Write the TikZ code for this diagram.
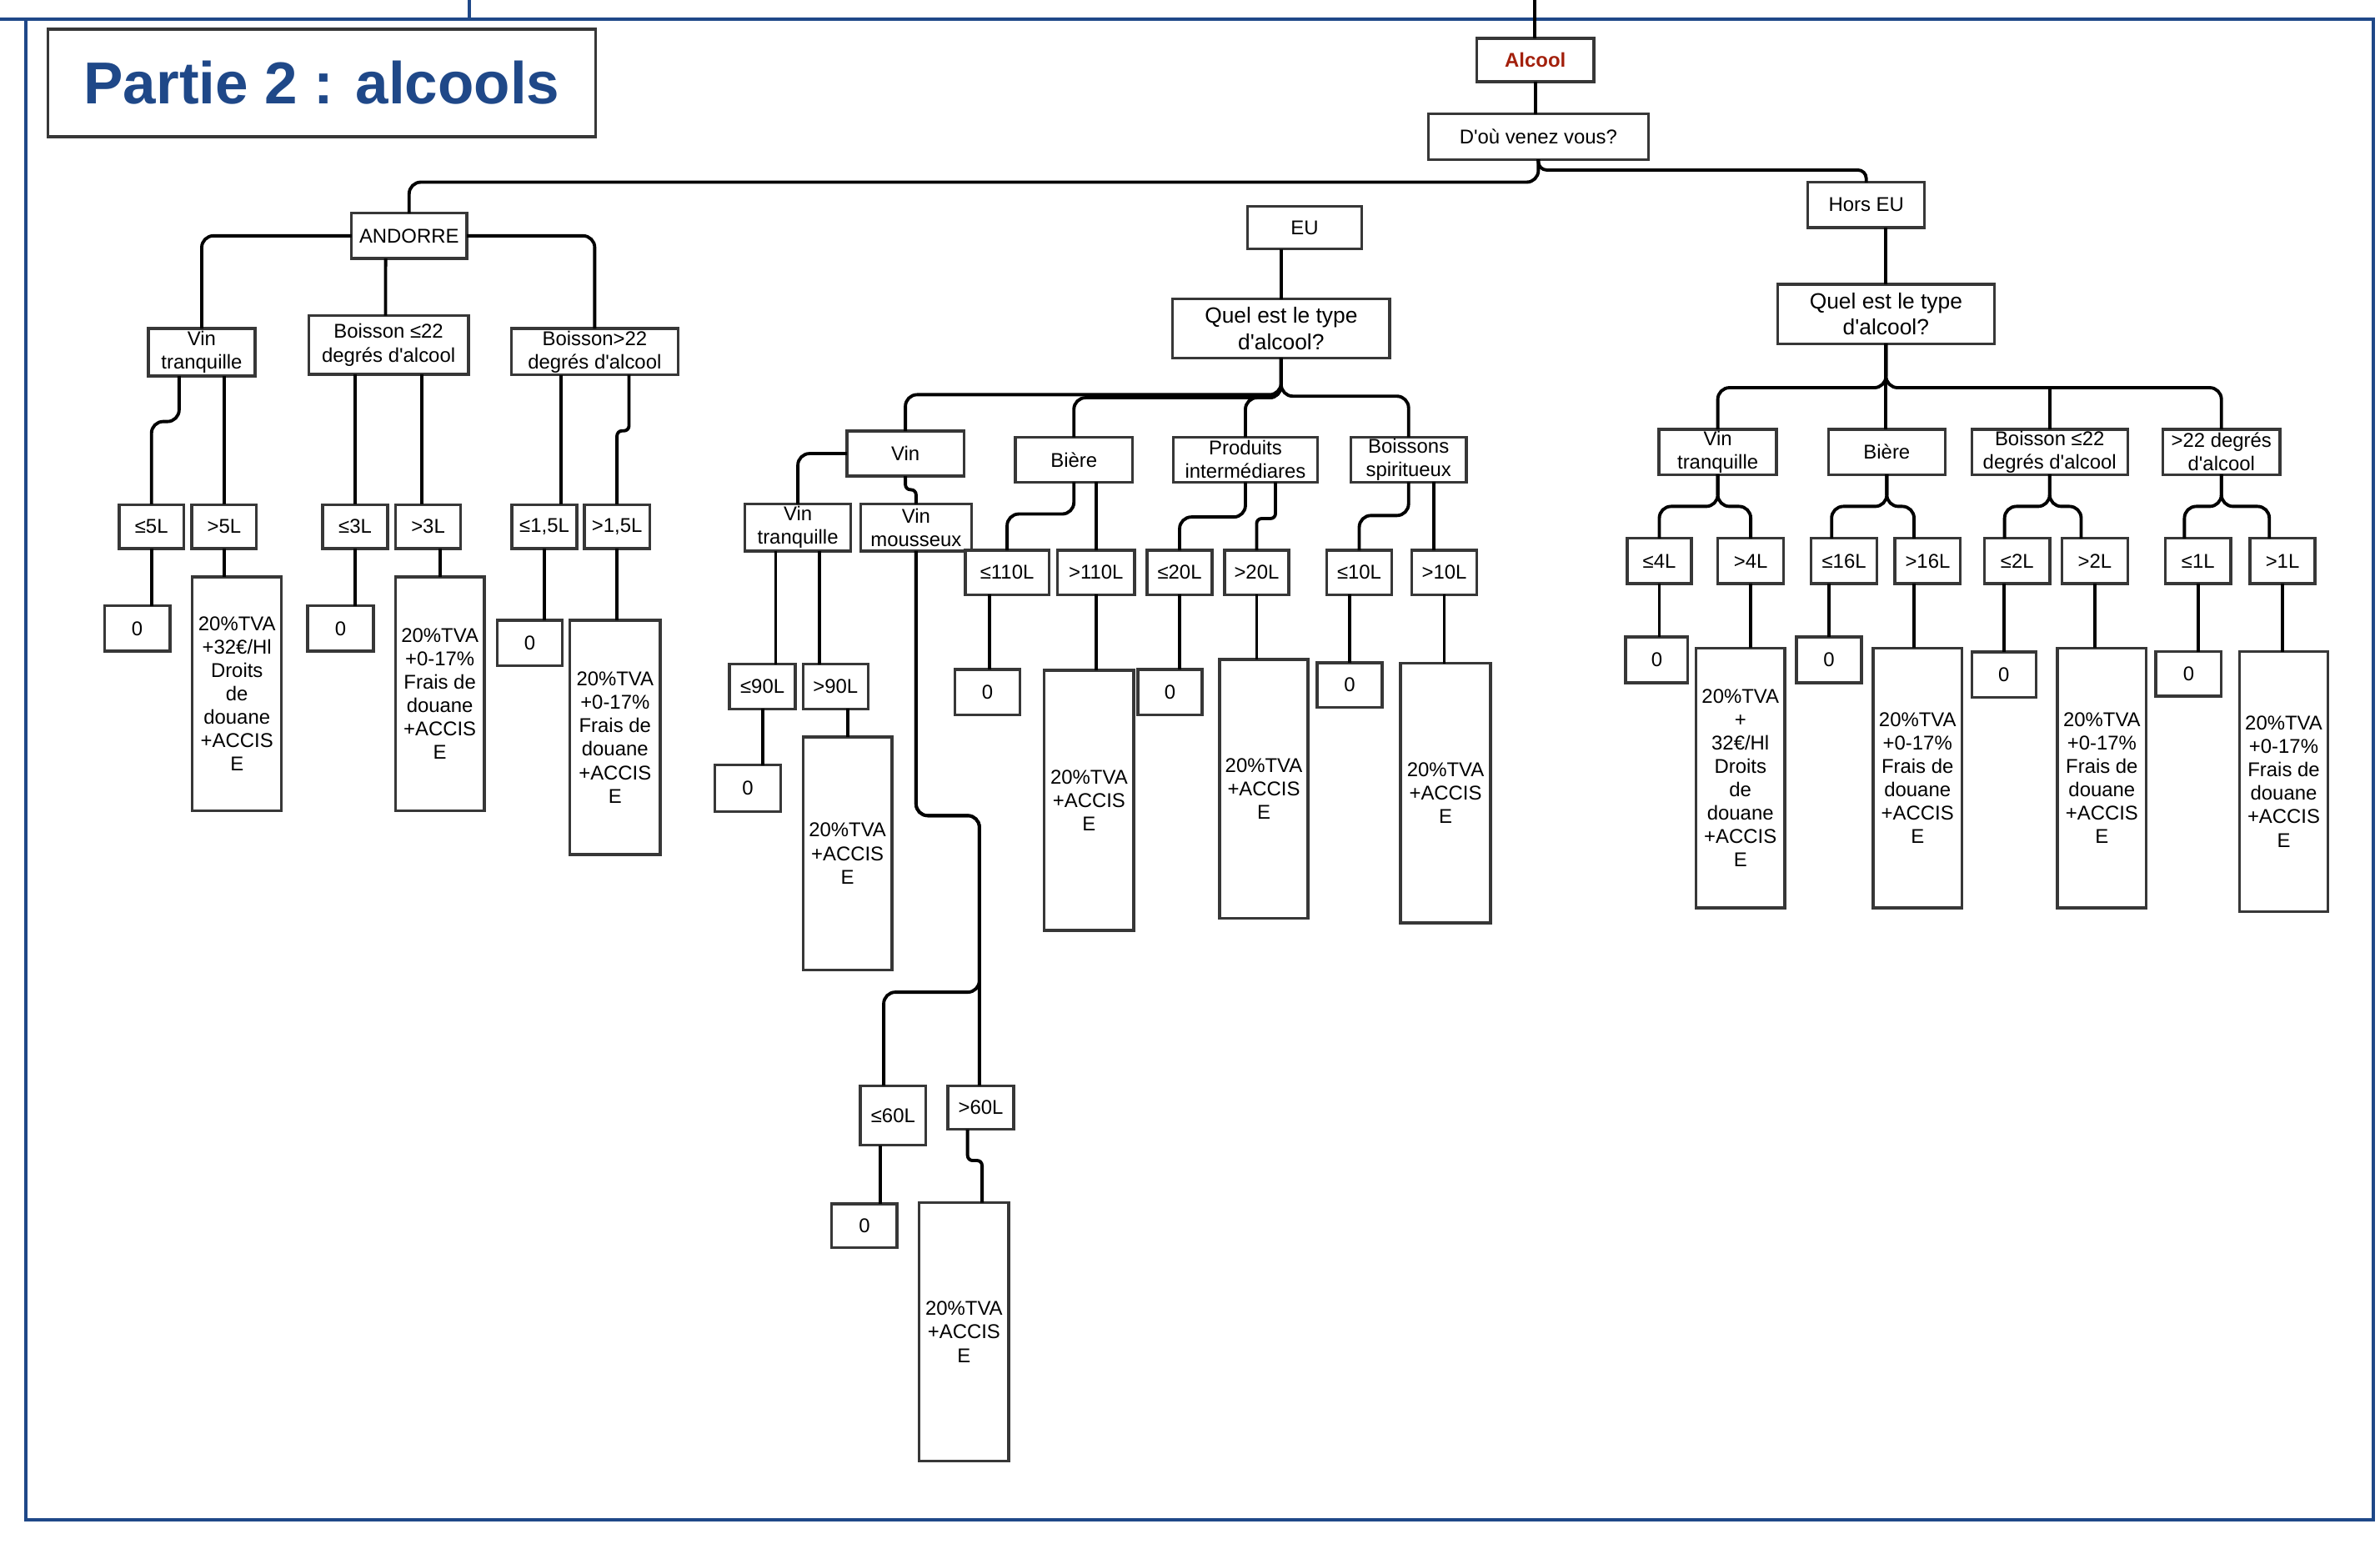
\documentclass[tikz,border=0pt]{standalone}
\usepackage{fontspec}
\setmainfont{Liberation Sans}[Ligatures=TeXOff]
\usetikzlibrary{calc}
\definecolor{fblue}{RGB}{31,72,136}
\definecolor{bgray}{RGB}{55,55,55}
\definecolor{ared}{RGB}{163,32,12}
\newcommand\fsA{\fontsize{6.8}{8}\selectfont}
\newcommand\fqA{\fontsize{7.5}{9}\selectfont}
\newcommand\mybox[7][]{%
  \node[box,minimum width={(#5-#3)*0.018208cm},minimum height={(#6-#4)*0.018208cm}] (#2) at ({(#3+#5)/2},{(#4+#6)/2}) {};
  \node[txt,#1] at (#2.center) {#7};}
\newcommand\rA{20\%TVA\\+32€/Hl\\Droits\\de\\douane\\+ACCIS\\E}
\newcommand\rF{20\%TVA\\+0-17\%\\Frais de\\douane\\+ACCIS\\E}
\newcommand\rS{20\%TVA\\+ACCIS\\E}
\begin{document}
\begin{tikzpicture}[x=0.018208cm,y=-0.018208cm,
  box/.style={draw=bgray,line width=0.95pt,inner sep=0pt,outer sep=0pt,fill=white},
  txt/.style={align=center,inner sep=0pt,font=\fsA},
  conn/.style={draw=black,line width=1.1pt,rounded corners=0.14cm},
  jog/.style={conn,rounded corners=0.06cm},
  frame/.style={draw=fblue,line width=1.1pt}]
\fill[white] (0,0) rectangle (1568,1020);
\useasboundingbox (0,0) rectangle (1568,1020);
% frame
\draw[frame] (0,12.8) -- (1563.6,12.8) -- (1563.6,1001) -- (17,1001) -- (17,12.8);
\draw[frame] (309,0) -- (309,12.8);
% title
\mybox[font=\fontsize{20.2}{24}\selectfont\bfseries,text=fblue]{title}{31.5}{19.2}{392.5}{90}{Partie 2 : alcools}
% top
\mybox[font=\fsA\bfseries,text=ared]{alc}{973}{25.3}{1050}{53.8}{Alcool}
\mybox{dou}{941}{75}{1086}{105}{D'où venez vous?}
\mybox{andorre}{231.5}{140.4}{307.6}{170.3}{ANDORRE}
\mybox{eu}{822}{136}{897}{164}{EU}
\mybox{hors}{1191}{120}{1268}{150}{Hors EU}
% Andorre
\mybox{vtA}{97.8}{216.4}{168}{247.7}{Vin\\tranquille}
\mybox{b22A}{203.3}{208}{308.7}{246.6}{Boisson ≤22\\degrés d'alcool}
\mybox{bg22A}{337}{216.4}{446.6}{247}{Boisson>22\\degrés d'alcool}
\mybox{le5}{78.6}{332.4}{121}{361.4}{≤5L}
\mybox{gt5}{126.4}{332.4}{169}{361.4}{>5L}
\mybox{le3}{212.6}{332.4}{255.4}{361.4}{≤3L}
\mybox{gt3}{260.6}{332.4}{303.5}{361.4}{>3L}
\mybox{le15}{337.3}{332.4}{380}{361.4}{≤1,5L}
\mybox{gt15}{385}{332.4}{428}{361.4}{>1,5L}
\mybox{z5}{68.8}{399}{112}{429}{0}
\mybox{r5}{126.7}{380}{185.5}{534}{\rA}
\mybox{z3}{202.7}{399}{246}{429}{0}
\mybox{r3}{260.6}{380}{319}{534}{\rF}
\mybox{z15}{327.6}{408.6}{370.5}{438.4}{0}
\mybox{r15}{375.5}{408.6}{434.9}{563}{\rF}
% EU
\mybox[font=\fqA]{quelE}{772.6}{197}{915.5}{236}{Quel est le type\\d'alcool?}
\mybox{vin}{558}{284}{635}{313.6}{Vin}
\mybox{biere}{669}{288}{746}{317.6}{Bière}
\mybox{prod}{773}{288}{868}{317.6}{Produits\\intermédiares}
\mybox{spir}{890}{288}{966}{317.6}{Boissons\\spiritueux}
\mybox{vtE}{490.8}{332}{560.5}{363}{Vin\\tranquille}
\mybox{vm}{567}{332}{640}{363}{Vin\\mousseux}
\mybox{le110}{636}{362.5}{691}{391.7}{≤110L}
\mybox{gt110}{696.7}{362.5}{747.5}{391.7}{>110L}
\mybox{le20}{755.7}{362.5}{798.6}{391.7}{≤20L}
\mybox{gt20}{806.8}{362.5}{849}{391.7}{>20L}
\mybox{le10}{874}{362.5}{917}{391.7}{≤10L}
\mybox{gt10}{930}{362.5}{973}{391.7}{>10L}
\mybox{le90}{480.6}{437.6}{524}{467}{≤90L}
\mybox{gt90}{529}{437.6}{572}{467}{>90L}
\mybox{z90}{471}{504}{514.4}{534.6}{0}
\mybox{r90}{529}{485.5}{587.7}{639}{\rS}
\mybox{le60}{566.8}{715.3}{610}{754.5}{≤60L}
\mybox{gt60}{624.5}{715.3}{667.8}{744}{>60L}
\mybox{z60}{548}{793}{591}{821.7}{0}
\mybox{r60}{605.6}{792.3}{664.6}{962.5}{\rS}
\mybox{z110}{629}{441}{672}{471}{0}
\mybox{r110}{688}{441.6}{747}{613}{\rS}
\mybox{z20}{749.7}{441}{792}{471}{0}
\mybox{r20}{803.5}{434.4}{861.7}{605}{\rS}
\mybox{z10}{867.7}{436.6}{910.6}{466}{0}
\mybox{r10}{922.7}{437}{982}{608}{\rS}
% Hors EU
\mybox[font=\fqA]{quelH}{1171}{187.3}{1314}{226.4}{Quel est le type\\d'alcool?}
\mybox{vtH}{1093}{282.8}{1170.4}{312.6}{Vin\\tranquille}
\mybox{bierH}{1204.5}{282.8}{1281.6}{312.6}{Bière}
\mybox{b22H}{1299}{282.8}{1401.7}{312.6}{Boisson ≤22\\degrés d'alcool}
\mybox{g22H}{1425}{282.8}{1502}{312.6}{>22 degrés\\d'alcool}
\mybox{le4}{1072}{354.6}{1114.4}{384.5}{≤4L}
\mybox{gt4}{1131.8}{354.6}{1175}{384.5}{>4L}
\mybox{le16}{1193.3}{354.6}{1236.5}{384.5}{≤16L}
\mybox{gt16}{1248.4}{354.6}{1291.6}{384.5}{>16L}
\mybox{le2}{1307.4}{354.6}{1350.5}{384.5}{≤2L}
\mybox{gt2}{1358.5}{354.6}{1401.7}{384.5}{>2L}
\mybox{le1}{1426.6}{354.6}{1469.7}{384.5}{≤1L}
\mybox{gt1}{1482.3}{354.6}{1525.2}{384.5}{>1L}
\mybox{z4}{1071}{419.6}{1112}{449.8}{0}
\mybox{r4}{1117.3}{427}{1175.9}{598}{20\%TVA\\+\\32€/Hl\\Droits\\de\\douane\\+ACCIS\\E}
\mybox{z16}{1183.5}{419.6}{1226.4}{449.8}{0}
\mybox{r16}{1234}{427}{1292.6}{598}{\rF}
\mybox{z2}{1299}{429.5}{1341.4}{459.5}{0}
\mybox{r2}{1355.5}{427}{1414}{598}{\rF}
\mybox{z1}{1420.3}{429.3}{1463.5}{458.6}{0}
\mybox{r1}{1475.3}{429.3}{1533.8}{600.4}{\rF}
% ---------- connectors ----------
\coordinate (topin) at (1011,0);
\draw[conn] (topin) -- (topin |- alc.north);
\draw[conn] (alc.south) -- (alc.south |- dou.north);
\draw[conn] (dou.south) -- ++(0,15) -| (andorre.north);
\draw[conn,rounded corners=0.1cm] (dou.south) -- ++(0,7) -| (hors.north);
\draw[conn] (hors.south -| quelH.north) -- (quelH.north);
\draw[conn] (eu.south -| quelE.north) -- (quelE.north);
% Andorre
\draw[conn] (andorre.west) -| (vtA.north);
\draw[conn] (andorre.east) -| (bg22A.north);
\draw[conn] ($(andorre.south)+(-15.5,0)$) -- ($(b22A.north)+(-2,0)$);
\draw[conn] ($(vtA.south)+(-14.9,0)$) -- ++(0,30) -| (le5.north);
\draw[conn] (vtA.south -| gt5.north) -- (gt5.north);
\draw[conn] (b22A.south -| le3.north) -- (le3.north);
\draw[conn] ($(gt3.north)+(-4.3,0)$) coordinate (c1) -- (c1 |- b22A.south);
\draw[conn] ($(le15.north)+(10.9,0)$) coordinate (c2) -- (c2 |- bg22A.south);
\draw[jog] ($(bg22A.south)+(22.6,0)$) -- ++(0,36.8) -| (gt15.north);
\draw[conn] (le5.south) -- (le5.south |- z5.north);
\draw[conn] (gt5.south) -- (gt5.south |- r5.north);
\draw[conn] (le3.south) -- (le3.south |- z3.north);
\draw[conn] (gt3.south -| r3.north) -- (r3.north);
\draw[conn] (le15.south) -- (le15.south |- z15.north);
\draw[conn] (gt15.south) -- (gt15.south |- r15.north);
% EU
\draw[conn] (quelE.south) -- ++(0,24) -| (vin.north);
\draw[conn] (quelE.south) -- ++(0,26) -| (biere.north);
\draw[conn] (quelE.south) -- ++(0,26) -| (prod.north);
\draw[conn] (quelE.south) -- ++(0,25) -| (spir.north);
\draw[conn] (vin.west) -| (vtE.north);
\draw[jog] (vin.south) -- ++(0,9) -| (vm.north);
\draw[conn] (biere.south) -- ++(0,21) -| (le110.north);
\draw[conn] (biere.south -| gt110.north) -- (gt110.north);
\draw[conn] (prod.south) -- ++(0,23) -| (le20.north);
\draw[jog] ($(prod.south)+(19.8,0)$) -- ++(0,24) -| (gt20.north);
\draw[conn] (spir.south) -- ++(0,22) -| (le10.north);
\draw[conn] ($(spir.south)+(16.8,0)$) coordinate (c3) -- (c3 |- gt10.north);
\draw[conn] ($(vtE.south)+(-14.6,0)$) coordinate (c4) -- (c4 |- le90.north);
\draw[conn] ($(vtE.south)+(14.4,0)$) coordinate (c5) -- (c5 |- gt90.north);
\draw[conn] (le90.south) -- (le90.south |- z90.north);
\draw[conn] (gt90.south -| r90.north) -- (r90.north);
\draw[conn] (vm.south) |- ($(gt60.north)+(-0.9,-178)$) |- ($(le60.north)+(-6.2,-61.7)$) -- ($(le60.north)+(-6.2,0)$);
\draw[conn] (vm.south) |- ($(gt60.north)+(-0.9,-178)$) -- ($(gt60.north)+(-0.9,0)$);
\draw[conn] ($(le60.south)+(-8.4,0)$) coordinate (c6) -- (c6 |- z60.north);
\draw[jog] ($(gt60.south)+(-8.7,0)$) -- ++(0,20.5) -| ($(r60.north)+(11.9,0)$);
\draw[conn] ($(le110.south)+(-11.5,0)$) coordinate (c7) -- (c7 |- z110.north);
\draw[conn] (gt110.south) -- (gt110.south |- r110.north);
\draw[conn] (le20.south) -- (le20.south |- z20.north);
\draw[conn] (gt20.south) -- (gt20.south |- r20.north);
\draw[conn] (le10.south -| z10.north) -- (z10.north);
\draw[conn] (gt10.south) -- (gt10.south |- r10.north);
% Hors EU
\draw[conn] (quelH.south) -- ++(0,29) -| (vtH.north);
\draw[conn] (quelH.south) -- (quelH.south |- bierH.north);
\draw[conn] (quelH.south) -- ++(0,29) coordinate (hH) -| (g22H.north);
\draw[conn] (hH -| b22H.north) -- (b22H.north);
\draw[conn] (vtH.south) -- ++(0,21) -| (le4.north);
\draw[conn] (vtH.south) -- ++(0,21) -| (gt4.north);
\draw[conn] (bierH.south) -- ++(0,21) -| ($(le16.north)+(-8.2,0)$);
\draw[conn] (bierH.south) -- ++(0,21) -| ($(gt16.north)+(-9,0)$);
\draw[conn] (b22H.south) -- ++(0,21) -| ($(le2.north)+(-8.3,0)$);
\draw[conn] (b22H.south) -- ++(0,21) -| ($(gt2.north)+(-9,0)$);
\draw[conn] (g22H.south) -- ++(0,21) -| ($(le1.north)+(-9,0)$);
\draw[conn] (g22H.south) -- ++(0,21) -| ($(gt1.north)+(-8.7,0)$);
\draw[conn] (le4.south) -- (le4.south |- z4.north);
\draw[conn] (gt4.south) -- (gt4.south |- r4.north);
\draw[conn] (le16.south -| z16.north) -- (z16.north);
\draw[conn] ($(r16.north)+(-2.3,0)$) coordinate (c8) -- (c8 |- gt16.south);
\draw[conn] (le2.south -| z2.north) -- (z2.north);
\draw[conn] (gt2.south) -- (gt2.south |- r2.north);
\draw[conn] (le1.south) -- (le1.south |- z1.north);
\draw[conn] (gt1.south) -- (gt1.south |- r1.north);
\end{tikzpicture}
\end{document}
